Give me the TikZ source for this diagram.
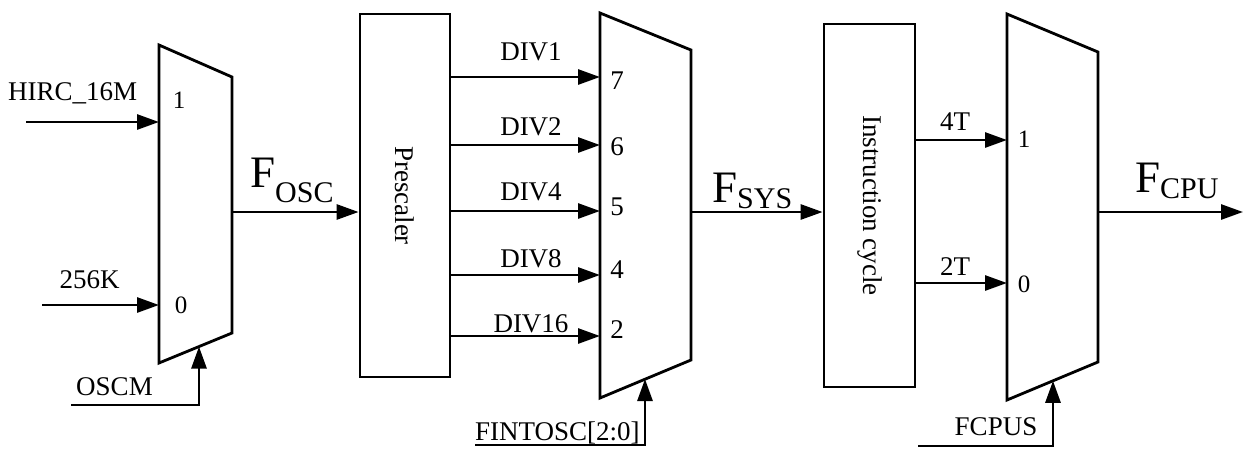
\documentclass[tikz,border=0pt]{standalone}
\usepackage{fontspec}
\setmainfont{Liberation Serif}
\usetikzlibrary{positioning, arrows.meta}

% clock name: big F with a lowered subscript
\newcommand{\clkname}[2]{{\fontsize{45}{45}\selectfont F}\raisebox{#2}{\fontsize{30}{30}\selectfont #1}}

\tikzset{
  wire/.style={line width=2.8pt, -{Triangle[length=22pt, width=15pt]}},
  edge/.style={line width=2.8pt, line join=miter},
  blk/.style={draw, line width=2.8pt, inner sep=0pt},
  lbl/.style={font=\fontsize{27}{30}\selectfont, inner sep=0pt},
  pin/.style={font=\fontsize{25}{28}\selectfont, inner sep=0pt},
}

\begin{document}
\begin{tikzpicture}[x=1pt, y=-1pt]
\useasboundingbox (0,0) rectangle (1243,448);

% --- clock source mux ---
\draw[edge] (159,45) -- (232,77) -- (232,333) -- (159,363) -- cycle;
\coordinate (m1in1) at (159,122);
\coordinate (m1in0) at (159,305);
\coordinate (m1sel) at (199,346.6);
\coordinate (m1out) at (232,212);
\node[pin] (m1p1) at (179,100) {1};
\node[pin] (m1p0) at (181,305) {0};

\coordinate (hircS) at (26,122);
\coordinate (lircS) at (42,305);
\coordinate (oscmS) at (71,405);
\node[lbl, anchor=base west] (hirc) at (8,100) {HIRC\_16M};
\node[lbl, anchor=base] (lirc) at (89.5,288) {256K};
\node[lbl, anchor=base] (oscm) at (114.5,395) {OSCM};
\draw[wire] (hircS) -- (m1in1);
\draw[wire] (lircS) -- (m1in0);
\draw[wire] (oscmS) -| (m1sel);

% --- prescaler ---
\node[blk, minimum width=90pt, minimum height=363pt] (pre) at (405,195.5) {};
\node[lbl, rotate=-90] (pretxt) at (pre.center) {Prescaler};
\draw[wire] (m1out) -- (m1out -| pre.west);
\node[anchor=base west, inner sep=0pt] (fosc) at (250,187) {\clkname{OSC}{-15pt}};

% --- divider mux ---
\draw[edge] (600,13) -- (691,50) -- (691,360) -- (600,398) -- cycle;
\coordinate (m2sel) at (645,379);
\coordinate (m2out) at (691,212);
\foreach \yy/\dv/\pn/\ly/\py in {77/DIV1/7/60/81, 145/DIV2/6/135/147,
    211/DIV4/5/200/207, 275/DIV8/4/267/270, 336/DIV16/2/332/330} {
  \coordinate (m2in\pn) at (600,\yy);
  \draw[wire] (pre.east |- m2in\pn) -- (m2in\pn);
  \node[lbl, anchor=base] (div\pn) at (531,\ly) {\dv};
  \node[pin, font=\fontsize{27}{30}\selectfont] (m2p\pn) at (617,\py) {\pn};
}
\coordinate (fintS) at (475,445);
\node[lbl, anchor=base west] (fint) at (475,440) {FINTOSC[2:0]};
\draw[wire] (fintS) -| (m2sel);

% --- instruction cycle ---
\node[blk, minimum width=91pt, minimum height=363pt] (ins) at (869.5,205.5) {};
\node[lbl, rotate=-90] (instxt) at (ins.center) {Instruction cycle};
\draw[wire] (m2out) -- (m2out -| ins.west);
\node[anchor=base west, inner sep=0pt] (fsys) at (712,202) {\clkname{SYS}{-6pt}};

% --- cpu clock mux ---
\draw[edge] (1007,14) -- (1098,52) -- (1098,362) -- (1007,400) -- cycle;
\coordinate (m3in1) at (1007,140);
\coordinate (m3in0) at (1007,283);
\coordinate (m3sel) at (1053,380.8);
\coordinate (m3out) at (1098,212);
\node[pin] (m3p1) at (1024,139) {1};
\node[pin] (m3p0) at (1024,284) {0};
\draw[wire] (ins.east |- m3in1) -- (m3in1);
\draw[wire] (ins.east |- m3in0) -- (m3in0);
\node[lbl, anchor=base] (t4) at (955,130) {4T};
\node[lbl, anchor=base] (t2) at (955,275) {2T};
\coordinate (fcpusS) at (918,446);
\node[lbl, anchor=base] (fcpus) at (996,435) {FCPUS};
\draw[wire] (fcpusS) -| (m3sel);

\coordinate (fcpuE) at (1243,212);
\draw[wire] (m3out) -- (fcpuE);
\node[anchor=base west, inner sep=0pt] (fcpu) at (1135,192) {\clkname{CPU}{-6pt}};
\end{tikzpicture}
\end{document}
